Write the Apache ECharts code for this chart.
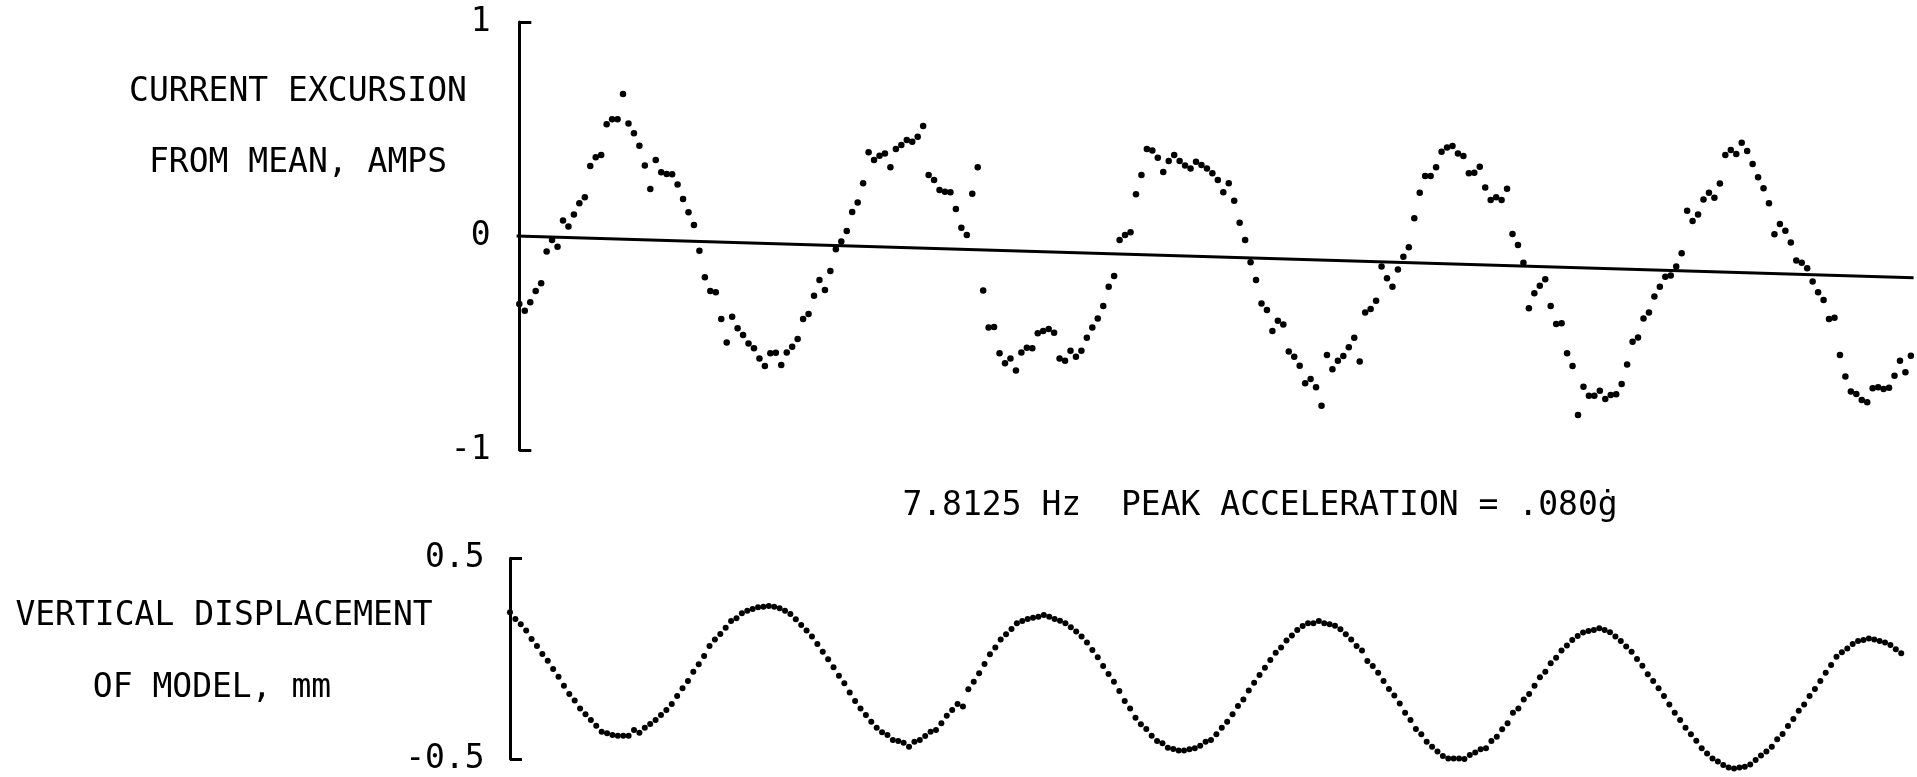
<!DOCTYPE html>
<html><head><meta charset="utf-8">
<script src="https://cdn.jsdelivr.net/npm/echarts@6/dist/echarts.min.js"></script>
<style>html,body{margin:0;padding:0;background:#fff}#c{width:1917px;height:777px}</style>
</head><body><div id="c"></div>
<script>
// Upper panel: current excursion from mean (amps), one value per sample
const currentValues = [
-0.318,-0.349,-0.310,-0.257,-0.221,-0.073,-0.019,-0.050,0.072,0.044,
0.101,0.153,0.181,0.327,0.368,0.379,0.522,0.545,0.545,0.664,
0.526,0.480,0.422,0.329,0.220,0.355,0.298,0.290,0.288,0.241,
0.173,0.111,0.051,-0.069,-0.193,-0.257,-0.263,-0.388,-0.498,-0.377,
-0.431,-0.463,-0.502,-0.525,-0.572,-0.607,-0.548,-0.545,-0.603,-0.544,
-0.517,-0.481,-0.388,-0.364,-0.279,-0.206,-0.252,-0.164,-0.062,-0.026,
0.023,0.112,0.157,0.246,0.391,0.355,0.375,0.386,0.321,0.407,
0.425,0.449,0.441,0.464,0.514,0.285,0.262,0.215,0.207,0.204,
0.126,0.039,0.005,0.198,0.321,-0.255,-0.428,-0.425,-0.548,-0.595,
-0.572,-0.629,-0.544,-0.522,-0.525,-0.455,-0.444,-0.435,-0.452,-0.572,
-0.583,-0.536,-0.564,-0.536,-0.475,-0.427,-0.385,-0.327,-0.237,-0.187,
-0.019,0.005,0.017,0.195,0.285,0.407,0.399,0.366,0.299,0.350,
0.379,0.350,0.329,0.316,0.347,0.332,0.316,0.293,0.262,0.204,
0.246,0.165,0.062,-0.019,-0.123,-0.206,-0.315,-0.346,-0.444,-0.396,
-0.413,-0.540,-0.564,-0.606,-0.688,-0.668,-0.707,-0.793,-0.556,-0.623,
-0.583,-0.561,-0.520,-0.475,-0.587,-0.358,-0.341,-0.302,-0.143,-0.198,
-0.237,-0.156,-0.097,-0.053,0.083,0.202,0.280,0.280,0.321,0.394,
0.413,0.421,0.386,0.374,0.293,0.296,0.324,0.227,0.168,0.181,
0.168,0.221,0.009,-0.042,-0.125,-0.338,-0.268,-0.232,-0.202,-0.327,
-0.411,-0.408,-0.548,-0.607,-0.836,-0.704,-0.746,-0.746,-0.723,-0.762,
-0.743,-0.740,-0.692,-0.600,-0.494,-0.474,-0.385,-0.357,-0.283,-0.237,
-0.190,-0.185,-0.143,-0.081,0.118,0.070,0.101,0.171,0.202,0.179,
0.245,0.379,0.402,0.383,0.436,0.397,0.336,0.274,0.223,0.153,
0.008,0.056,0.025,-0.030,-0.115,-0.125,-0.151,-0.213,-0.263,-0.299,
-0.388,-0.382,-0.556,-0.657,-0.727,-0.738,-0.766,-0.777,-0.712,-0.707,
-0.715,-0.709,-0.653,-0.583,-0.637,-0.559];

// Lower panel: vertical displacement of model (mm), one value per sample
const displacementValues = [
0.231,0.198,0.171,0.140,0.098,0.063,0.023,-0.010,-0.051,-0.090,
-0.135,-0.176,-0.209,-0.248,-0.277,-0.306,-0.334,-0.364,-0.372,-0.380,
-0.384,-0.384,-0.384,-0.355,-0.369,-0.344,-0.326,-0.306,-0.281,-0.256,
-0.226,-0.186,-0.148,-0.111,-0.065,-0.028,0.013,0.063,0.096,0.123,
0.154,0.188,0.201,0.226,0.239,0.248,0.256,0.259,0.262,0.259,
0.251,0.239,0.223,0.196,0.168,0.140,0.110,0.073,0.035,-0.003,
-0.043,-0.085,-0.123,-0.169,-0.211,-0.248,-0.281,-0.314,-0.344,-0.367,
-0.380,-0.405,-0.410,-0.419,-0.439,-0.414,-0.405,-0.385,-0.364,-0.355,
-0.322,-0.284,-0.256,-0.226,-0.239,-0.153,-0.115,-0.073,-0.027,0.022,
0.055,0.096,0.121,0.148,0.176,0.188,0.198,0.204,0.209,0.218,
0.209,0.198,0.189,0.176,0.156,0.135,0.110,0.080,0.043,0.007,
-0.037,-0.076,-0.115,-0.161,-0.211,-0.248,-0.294,-0.327,-0.350,-0.384,
-0.410,-0.422,-0.444,-0.450,-0.458,-0.458,-0.452,-0.447,-0.434,-0.414,
-0.405,-0.377,-0.344,-0.314,-0.277,-0.236,-0.203,-0.159,-0.120,-0.081,
-0.045,-0.007,0.030,0.055,0.090,0.115,0.143,0.163,0.176,0.176,
0.188,0.176,0.171,0.164,0.146,0.121,0.096,0.063,0.040,-0.012,
-0.037,-0.070,-0.111,-0.151,-0.184,-0.223,-0.269,-0.306,-0.350,-0.377,
-0.414,-0.439,-0.463,-0.485,-0.497,-0.497,-0.497,-0.500,-0.480,-0.467,
-0.452,-0.447,-0.410,-0.389,-0.352,-0.322,-0.269,-0.248,-0.203,-0.176,
-0.135,-0.093,-0.065,-0.023,0.005,0.040,0.065,0.093,0.113,0.130,
0.138,0.143,0.151,0.143,0.131,0.110,0.088,0.060,0.035,-0.002,
-0.035,-0.078,-0.111,-0.148,-0.186,-0.228,-0.269,-0.306,-0.344,-0.377,
-0.409,-0.447,-0.472,-0.497,-0.513,-0.530,-0.542,-0.547,-0.542,-0.538,
-0.527,-0.505,-0.483,-0.463,-0.439,-0.402,-0.375,-0.336,-0.301,-0.259,
-0.228,-0.186,-0.151,-0.111,-0.070,-0.032,0.010,0.032,0.051,0.073,
0.088,0.093,0.101,0.096,0.088,0.080,0.068,0.047,0.027];

// Mean (reference) line across the upper panel
const trendX = [-0.5, 255.5];
const trendY = [0, -0.195];

// Tick labels
const currentLabelValues = [-1, 0, 1];
const currentTickValues = [-1, 1];
const dispLabelValues = [-0.5, 0.5];
const dispTickValues = [-0.5, 0.5];

// Texts
const titleText = '7.8125 Hz  PEAK ACCELERATION = .080\u0121';
const currentNameLines = ['CURRENT EXCURSION', 'FROM MEAN, AMPS'];
const dispNameLines = ['VERTICAL DISPLACEMENT', 'OF MODEL, mm'];

const FONT = '"DejaVu Sans Mono", monospace';
const FS = 33;
const INK = '#000';

function yAxisCfg(grid, min, max, labels, ticks, margin) {
  return {
    gridIndex: grid, type: 'value', min: min, max: max,
    axisLine: { show: true, lineStyle: { color: INK, width: 3 } },
    axisTick: { show: true, inside: true, length: 12, customValues: ticks,
                lineStyle: { color: INK, width: 3 } },
    axisLabel: { show: true, customValues: labels, margin: margin, color: INK,
                 fontSize: FS, fontFamily: FONT },
    splitLine: { show: false }
  };
}

function textEl(str, x, y) {
  return { type: 'text', x: x, y: y, silent: true,
    style: { text: str, fill: INK, font: FS + 'px ' + FONT,
             textAlign: 'center', textVerticalAlign: 'middle', verticalAlign: 'middle' } };
}

const chart = echarts.init(document.getElementById('c'), null, { renderer: 'canvas' });
chart.setOption({
  animation: false,
  backgroundColor: '#fff',
  grid: [
    { left: 516.6, top: 22, width: 1397, height: 428 },
    { left: 504.6, top: 558.3, width: 1402, height: 200.7 }
  ],
  xAxis: [
    { gridIndex: 0, type: 'value', min: -0.5, max: 255.5, show: false },
    { gridIndex: 1, type: 'value', min: -1, max: 259, show: false }
  ],
  yAxis: [
    yAxisCfg(0, -1, 1, currentLabelValues, currentTickValues, 26),
    yAxisCfg(1, -0.5, 0.5, dispLabelValues, dispTickValues, 20)
  ],
  graphic: [
    textEl(currentNameLines[0], 298, 92),
    textEl(currentNameLines[1], 298, 163),
    textEl(titleText, 1260, 506),
    textEl(dispNameLines[0], 224, 616),
    textEl(dispNameLines[1], 212, 688)
  ],
  series: [
    { type: 'line', xAxisIndex: 0, yAxisIndex: 0, symbol: 'none', silent: true,
      data: trendX.map((x, i) => [x, trendY[i]]),
      lineStyle: { color: INK, width: 3 } },
    { type: 'scatter', xAxisIndex: 0, yAxisIndex: 0, symbolSize: 6.5, clip: false, silent: true,
      itemStyle: { color: INK, opacity: 1 }, data: currentValues.map((v, i) => [i, v]) },
    { type: 'scatter', xAxisIndex: 1, yAxisIndex: 1, symbolSize: 6, clip: false, silent: true,
      itemStyle: { color: INK, opacity: 1 }, data: displacementValues.map((v, i) => [i, v]) }
  ]
});
</script></body></html>
